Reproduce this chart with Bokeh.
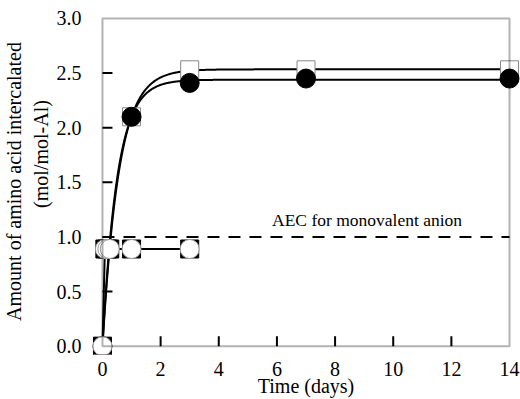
import numpy as np
from bokeh.plotting import figure
from bokeh.models import Range1d, BoxAnnotation, FixedTicker, PrintfTickFormatter
from bokeh.embed import file_html
from bokeh.resources import INLINE
from bokeh.core.properties import value

# ---------------- data ----------------
time_upper = [0, 1, 3, 7, 14]
upper_squares = [0.0, 2.10, 2.53, 2.53, 2.53]
upper_circles = [0.0, 2.10, 2.41, 2.45, 2.45]

time_lower = [0, 0.083, 0.167, 0.25, 1, 3]
lower_squares = [0.0, 0.89, 0.89, 0.89, 0.89, 0.89]
lower_circles = [0.0, 0.89, 0.89, 0.89, 0.89, 0.89]

aec_level = 1.0
aec_label = "AEC for monovalent anion"

x_ticks = [0, 2, 4, 6, 8, 10, 12, 14]
y_ticks = [0.0, 0.5, 1.0, 1.5, 2.0, 2.5, 3.0]
x_limits = (0, 14)
y_limits = (0, 3)

x_title = "Time (days)"
y_title_1 = "Amount of amino acid intercalated"
y_title_2 = "(mol/mol-Al)"

# ---------------- fitted saturation curves ----------------
def fit_saturation(t, y):
    t = np.asarray(t, float)
    y = np.asarray(y, float)
    best = None
    for k in np.linspace(0.2, 6.0, 1161):
        f = 1.0 - np.exp(-k * t)
        a = float(f @ y) / float(f @ f)
        r = float(((a * f - y) ** 2).sum())
        if best is None or r < best[0]:
            best = (r, a, k)
    return best[1], best[2]

t_curve = np.linspace(x_limits[0], x_limits[1], 600)
a_sq, k_sq = fit_saturation(time_upper, upper_squares)
a_ci, k_ci = fit_saturation(time_upper, upper_circles)
curve_sq = a_sq * (1 - np.exp(-k_sq * t_curve))
curve_ci = a_ci * (1 - np.exp(-k_ci * t_curve))

# ---------------- layout ----------------
W, H = 520, 399
B_LEFT, B_RIGHT, B_TOP, B_BOTTOM = 90, 0, 8, 43
frame_w = W - B_LEFT - B_RIGHT
frame_h = H - B_TOP - B_BOTTOM
pad_x_px, pad_top_px, pad_bot_px = 11, 10, 8.3
span_x = x_limits[1] - x_limits[0]
span_y = y_limits[1] - y_limits[0]
ppx = (frame_w - 2 * pad_x_px) / span_x
ppy = (frame_h - pad_top_px - pad_bot_px) / span_y

FONT = "Liberation Serif"

p = figure(
    width=W, height=H,
    x_range=Range1d(x_limits[0] - pad_x_px / ppx, x_limits[1] + pad_x_px / ppx),
    y_range=Range1d(y_limits[0] - pad_bot_px / ppy, y_limits[1] + pad_top_px / ppy),
    min_border_left=B_LEFT, min_border_right=B_RIGHT,
    min_border_top=B_TOP, min_border_bottom=B_BOTTOM,
    output_backend="svg", toolbar_location=None,
)
p.outline_line_color = None
p.background_fill_color = "white"
p.border_fill_color = "white"
p.grid.visible = False

for ax in (p.xaxis[0], p.yaxis[0]):
    ax.axis_line_color = None
    ax.major_tick_line_color = None
    ax.minor_tick_line_color = None
    ax.major_label_text_font = FONT
    ax.major_label_text_color = "black"
    ax.axis_label_text_font = FONT
    ax.axis_label_text_font_style = "normal"
    ax.axis_label_text_color = "black"

p.xaxis.ticker = FixedTicker(ticks=x_ticks)
p.yaxis.ticker = FixedTicker(ticks=y_ticks)
p.yaxis.formatter = PrintfTickFormatter(format="%.1f")
p.xaxis.major_label_text_font_size = "20px"
p.yaxis.major_label_text_font_size = "20px"
p.xaxis.major_label_standoff = 1
p.yaxis.major_label_standoff = 4
p.xaxis.axis_label = x_title
# second line sits a little toward the top in the reference (non-breaking padding)
p.yaxis.axis_label = y_title_1 + "\n" + "\u00a0" * 11 + y_title_2
p.xaxis.axis_label_text_font_size = "20px"
p.yaxis.axis_label_text_font_size = "20px"
p.xaxis.axis_label_standoff = -4
p.yaxis.axis_label_standoff = 2

# plot box
p.add_layout(BoxAnnotation(left=x_limits[0], right=x_limits[1],
                           bottom=y_limits[0], top=y_limits[1],
                           fill_alpha=0, line_color="black", line_width=2))

# inward ticks
tick_px = 10
xt_in = [t for t in x_ticks if x_limits[0] < t < x_limits[1]]
yt_in = [t for t in y_ticks if y_limits[0] < t < y_limits[1]]
p.segment(x0=xt_in, y0=[y_limits[0]] * len(xt_in), x1=xt_in,
          y1=[y_limits[0] + tick_px / ppy] * len(xt_in),
          line_color="black", line_width=2)
p.segment(x0=[x_limits[0]] * len(yt_in), y0=yt_in,
          x1=[x_limits[0] + tick_px / ppx] * len(yt_in), y1=yt_in,
          line_color="black", line_width=2)

# AEC dashed line
p.line(x=list(x_limits), y=[aec_level, aec_level], line_color="black",
       line_width=2, line_dash="12 9")
p.text(x=[9.1], y=[aec_level], text=[aec_label], y_offset=-7,
       text_align="center", text_baseline="bottom",
       text_font=value(FONT), text_font_size="17.5px", text_color="black")

# curves and lines
p.line(t_curve, curve_sq, line_color="black", line_width=2)
p.line(t_curve, curve_ci, line_color="black", line_width=2)
p.line(time_lower, lower_squares, line_color="black", line_width=2)

# markers
p.scatter(time_upper, upper_squares, marker="square", size=18,
          fill_color="white", line_color="#888888", line_width=1)
p.scatter(time_upper, upper_circles, marker="circle", size=19,
          fill_color="black", line_color="black", line_width=1)
p.scatter(time_lower, lower_squares, marker="square", size=18,
          fill_color="black", line_color="black", line_width=1)
p.scatter(time_lower, lower_circles, marker="circle", size=19,
          fill_color="white", line_color="#999999", line_width=1)

open("out.html", "w").write(file_html(p, INLINE))
